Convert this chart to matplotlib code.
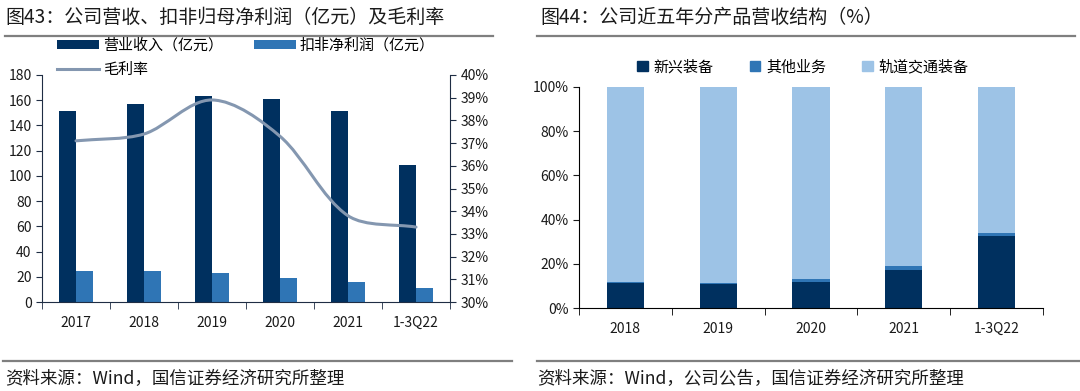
"""
Company revenue / profit / gross margin, and revenue mix by product.
"""

import numpy as np
import matplotlib.pyplot as plt
from matplotlib.lines import Line2D
from matplotlib.path import Path
from matplotlib.patches import PathPatch, Patch

plt.rcParams["font.family"] = ["Noto Sans CJK SC", "DejaVu Sans"]

# Left chart data
YEARS_L = ["2017", "2018", "2019", "2020", "2021", "1-3Q22"]
REVENUE = [151.8, 156.8, 163.6, 160.7, 151.8, 109.0]
NET_PROFIT = [24.8, 24.3, 23.2, 18.7, 15.6, 11.3]
GROSS_MARGIN = [37.1, 37.4, 38.9, 37.3, 33.8, 33.3]

# Right chart data (%)
YEARS_R = ["2018", "2019", "2020", "2021", "1-3Q22"]
NEW_EQUIP = [11.3, 10.9, 11.9, 17.0, 32.4]
OTHER = [0.5, 0.6, 1.2, 1.9, 1.5]
RAIL = [88.2, 88.5, 86.9, 81.1, 66.1]

NAVY = "#00305f"
MID = "#2f75b5"
LIGHT = "#9dc3e6"
LINE_C = "#8497b0"
TXT = "#1a1a1a"

W, H = 1080, 391


def smooth_path(ax, xs, ys):
    """Excel-like smoothed line, built in pixel space, returned in data space."""
    pts = ax.transData.transform(np.column_stack([xs, ys]).astype(float))
    n = len(pts)
    verts = [pts[0]]
    codes = [Path.MOVETO]
    for i in range(n - 1):
        p0 = pts[max(i - 1, 0)]
        p1 = pts[i]
        p2 = pts[i + 1]
        p3 = pts[min(i + 2, n - 1)]
        seg = np.linalg.norm(p2 - p1)
        t1 = p2 - p0
        t2 = p3 - p1
        l1 = np.linalg.norm(t1)
        l2 = np.linalg.norm(t2)
        c1 = p1 + t1 / max(l1, 1e-9) * seg / 3.0 * 0.9
        c2 = p2 - t2 / max(l2, 1e-9) * seg / 3.0 * 0.9
        verts += [c1, c2, p2]
        codes += [Path.CURVE4] * 3
    verts = ax.transData.inverted().transform(np.array(verts))
    return Path(verts, codes)


def fx(px):
    return px / W


def fy(py):
    return 1 - py / H


fig = plt.figure(figsize=(10.8, 3.91), dpi=100)

# titles, rules and sources
fig.text(fx(5), fy(17), "图43：公司营收、扣非归母净利润（亿元）及毛利率",
         fontsize=13.7, color=TXT, va="center", ha="left")
fig.text(fx(540), fy(17), "图44：公司近五年分产品营收结构（%）",
         fontsize=13.7, color=TXT, va="center", ha="left")
for x0, x1 in [(5, 493), (537, 1075)]:
    fig.add_artist(Line2D([fx(x0), fx(x1)], [fy(36), fy(36)], color="#7f7f7f", lw=1.6))
for x0, x1 in [(3, 512), (537, 1080)]:
    fig.add_artist(Line2D([fx(x0), fx(x1)], [fy(361), fy(361)], color="#7f7f7f", lw=1.6))
fig.text(fx(5), fy(379), "资料来源：Wind，国信证券经济研究所整理",
         fontsize=12.6, color=TXT, va="center", ha="left")
fig.text(fx(537), fy(379), "资料来源：Wind，公司公告，国信证券经济研究所整理",
         fontsize=12.6, color=TXT, va="center", ha="left")

# ---------------- left chart ----------------
ax = fig.add_axes([fx(42), fy(302), fx(450) - fx(42), fy(75) - fy(302)])
x = np.arange(len(YEARS_L))
b1 = ax.bar(x - 0.125, REVENUE, width=0.25, color=NAVY, label="营业收入（亿元）")
b2 = ax.bar(x + 0.125, NET_PROFIT, width=0.25, color=MID, label="扣非净利润（亿元）")
ax.set_xlim(-0.5, len(YEARS_L) - 0.5)
ax.set_ylim(0, 180)
ax.set_yticks(range(0, 181, 20))
ax.set_xticks(x)
ax.set_xticklabels(YEARS_L)
ax.set_xticks(np.arange(-0.5, len(YEARS_L), 1), minor=True)
ax.tick_params(axis="x", which="major", length=0, pad=10, labelsize=10, colors=TXT)
ax.tick_params(axis="x", which="minor", length=5, direction="out", color="#1f2d44")
ax.tick_params(axis="y", length=4, direction="out", labelsize=10, colors=TXT, color="#1f2d44")
for s in ["top", "right"]:
    ax.spines[s].set_visible(False)
for s in ["left", "bottom"]:
    ax.spines[s].set_color("#1f2d44")

ax2 = ax.twinx()
ax2.set_xlim(ax.get_xlim())
ax2.set_ylim(30, 40)
ax2.set_yticks(range(30, 41))
ax2.set_yticklabels([f"{v}%" for v in range(30, 41)])
ax2.tick_params(axis="y", length=4, direction="out", labelsize=10, colors=TXT, color="#1f2d44")
for s in ["top", "left", "bottom"]:
    ax2.spines[s].set_visible(False)
ax2.spines["right"].set_color("#1f2d44")
curve = PathPatch(smooth_path(ax2, x, GROSS_MARGIN), facecolor="none",
                  edgecolor=LINE_C, lw=2.2, capstyle="round")
ax2.add_patch(curve)
line_handle = Line2D([], [], color=LINE_C, lw=2.2, label="毛利率")

fig.legend(handles=[b1, line_handle, b2], ncol=2, loc="upper left",
           bbox_to_anchor=(fx(57), fy(38)), frameon=False, fontsize=10.8,
           handlelength=2.8, handleheight=0.55, handletextpad=0.3,
           columnspacing=2.0, labelspacing=0.7, borderaxespad=0, borderpad=0)

# ---------------- right chart ----------------
axr = fig.add_axes([fx(579), fy(308), fx(1043) - fx(579), fy(87) - fy(308)])
xr = np.arange(len(YEARS_R))
bottom2 = np.array(NEW_EQUIP)
bottom3 = bottom2 + np.array(OTHER)
axr.bar(xr, NEW_EQUIP, width=0.4, color=NAVY, label="新兴装备")
axr.bar(xr, OTHER, width=0.4, bottom=bottom2, color=MID, label="其他业务")
axr.bar(xr, RAIL, width=0.4, bottom=bottom3, color=LIGHT, label="轨道交通装备")
axr.set_xlim(-0.5, len(YEARS_R) - 0.5)
axr.set_ylim(0, 100)
axr.set_yticks(range(0, 101, 20))
axr.set_yticklabels([f"{v}%" for v in range(0, 101, 20)])
axr.set_xticks(xr)
axr.set_xticklabels(YEARS_R)
axr.set_xticks(np.arange(-0.5, len(YEARS_R), 1), minor=True)
axr.tick_params(axis="x", which="major", length=0, pad=10, labelsize=10, colors=TXT)
axr.tick_params(axis="x", which="minor", length=5, direction="out", color="black")
axr.tick_params(axis="y", length=4, direction="out", labelsize=10, colors=TXT)
for s in ["top", "right"]:
    axr.spines[s].set_visible(False)

handles = [Patch(color=NAVY, label="新兴装备"), Patch(color=MID, label="其他业务"),
           Patch(color=LIGHT, label="轨道交通装备")]
fig.legend(handles=handles, ncol=3, loc="center left",
           bbox_to_anchor=(fx(637), fy(67)), frameon=False, fontsize=10.8,
           handlelength=0.7, handleheight=0.7, handletextpad=0.4,
           columnspacing=2.4, borderaxespad=0, borderpad=0)

fig.savefig("out.png", dpi=100)
